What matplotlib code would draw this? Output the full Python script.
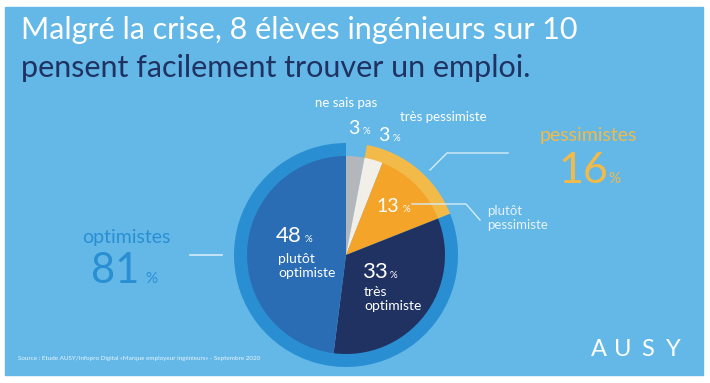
import matplotlib
matplotlib.use("Agg")
import matplotlib.pyplot as plt
from matplotlib.patches import Rectangle

plt.rcParams['font.family'] = ['Lato', 'DejaVu Sans']

# ---- data ----
slice_labels = ["ne sais pas", "très pessimiste", "plutôt pessimiste", "très optimiste", "plutôt optimiste"]
slice_values = [3, 3, 13, 33, 48]
group_labels = ["ne sais pas", "pessimistes", "optimistes"]
group_values = [3, 16, 81]
title_line1 = "Malgré la crise, 8 élèves ingénieurs sur 10"
title_line2 = "pensent facilement trouver un emploi."
source_text = "Source : Etude AUSY/Infopro Digital «Marque employeur ingénieurs» - Septembre 2020"

# ---- style ----
BG = "#63b8e7"
RING_BLUE = "#2a8fd2"
MID_BLUE = "#2b6db4"
NAVY = "#1f3262"
ORANGE = "#f5a42a"
YELLOW = "#f2ba48"
GREY = "#b3b7bb"
CREAM = "#f2efe8"
LINE = "#d6ecf8"
W, H = 710, 383

def Y(p):
    return H - p

fig = plt.figure(figsize=(W / 100, H / 100), dpi=100)
fig.patch.set_facecolor("white")
ax = fig.add_axes([0, 0, 1, 1])

ax.add_patch(Rectangle((5, Y(375)), 698, 368, color=BG, zorder=0))

cx, cy = 346, Y(255)
# outer ring (groups)
ax.pie(group_values, colors=["none", YELLOW, RING_BLUE], startangle=90, counterclock=False,
       center=(cx, cy), radius=112, wedgeprops=dict(width=14, linewidth=0), frame=True)
# inner pie (slices)
ax.pie(slice_values, colors=[GREY, CREAM, ORANGE, NAVY, MID_BLUE], startangle=90, counterclock=False,
       center=(cx, cy), radius=99, wedgeprops=dict(linewidth=0), frame=True)

ax.set_xlim(0, W)
ax.set_ylim(0, H)
ax.set_aspect('auto')
ax.axis('off')

# title
ax.text(21, Y(39), title_line1, color="white", fontsize=22, ha='left', va='baseline')
ax.text(21, Y(77), title_line2, color=NAVY, fontsize=22, ha='left', va='baseline')

def num(x, y, value, size, color, xp, psize):
    ax.text(x, Y(y), str(value), color=color, fontsize=size, ha='left', va='baseline')
    ax.text(xp, Y(y), "%", color=color, fontsize=psize, ha='left', va='baseline')

small = 9.5
# ne sais pas
ax.text(346, Y(107), slice_labels[0], color="white", fontsize=small, ha='center', va='baseline')
num(348, 134, slice_values[0], 14, "white", 363, 7)
# très pessimiste
ax.text(400, Y(121), slice_labels[1], color="white", fontsize=small, ha='left', va='baseline')
num(378, 141, slice_values[1], 14, "white", 393, 7)
# plutôt pessimiste
num(376, 212, slice_values[2], 14, "white", 403, 7)
ax.text(487, Y(229), "plutôt\npessimiste", color="#e6f3fb", fontsize=small, ha='left', va='baseline',
        linespacing=1.2)
# très optimiste
num(362, 278, slice_values[3], 16, "white", 390, 7)
ax.text(364, Y(310), "très\noptimiste", color="white", fontsize=small + 0.5, ha='left', va='baseline',
        linespacing=1.2)
# plutôt optimiste
num(276, 242, slice_values[4], 16, "white", 305, 7)
ax.text(278, Y(277), "plutôt\noptimiste", color="white", fontsize=small + 0.5, ha='left', va='baseline',
        linespacing=1.2)

# group labels
ax.text(588, Y(141), group_labels[1], color=YELLOW, fontsize=14, ha='center', va='baseline')
num(558, 183, group_values[1], 31, YELLOW, 608, 11)
ax.text(126, Y(243), group_labels[2], color=RING_BLUE, fontsize=14, ha='center', va='baseline')
num(91, 283, group_values[2], 30, RING_BLUE, 145, 11)

# leader lines
ax.plot([430, 447, 508], [Y(170), Y(153), Y(153)], color=LINE, lw=1)
ax.plot([412, 466, 480], [Y(204), Y(204), Y(220)], color=LINE, lw=1)
ax.plot([190, 222], [Y(255), Y(255)], color=LINE, lw=1.2)

# source
ax.text(18, Y(360), source_text, color="#eaf5fc", fontsize=4.5, ha='left', va='baseline')

# logo
for ch, xc in zip("AUSY", [599, 623, 648, 673]):
    ax.text(xc, Y(356), ch, color="white", fontsize=17, ha='center', va='baseline')

fig.savefig("out.png", dpi=100, facecolor=fig.get_facecolor())
